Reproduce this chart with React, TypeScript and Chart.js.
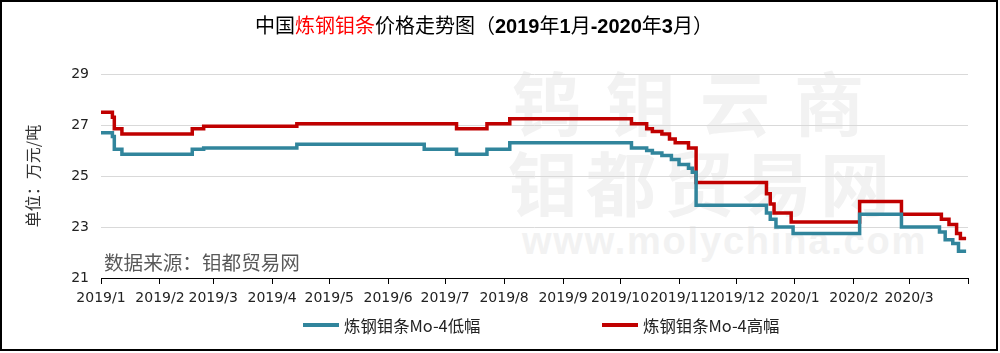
import React, { useEffect, useRef } from 'react';
import { Chart, registerables } from 'chart.js';

Chart.register(...registerables);

// ---------- data ----------
const monthTickDates = [
  '2019-01-01', '2019-02-01', '2019-03-01', '2019-04-01', '2019-05-01', '2019-06-01',
  '2019-07-01', '2019-08-01', '2019-09-01', '2019-10-01', '2019-11-01', '2019-12-01',
  '2020-01-01', '2020-02-01', '2020-03-01', '2020-04-01',
];
const monthTickLabels = [
  '2019/1', '2019/2', '2019/3', '2019/4', '2019/5', '2019/6', '2019/7', '2019/8',
  '2019/9', '2019/10', '2019/11', '2019/12', '2020/1', '2020/2', '2020/3', '',
];

const lowDates = [
  '2019-01-01', '2019-01-07', '2019-01-08', '2019-01-12', '2019-02-18', '2019-02-24',
  '2019-04-14', '2019-06-20', '2019-07-07', '2019-07-23', '2019-08-04', '2019-10-07',
  '2019-10-15', '2019-10-18', '2019-10-23', '2019-10-28', '2019-11-01', '2019-11-06',
  '2019-11-08', '2019-11-10', '2019-12-17', '2019-12-19', '2019-12-22', '2019-12-31',
  '2020-02-04', '2020-02-26', '2020-03-17', '2020-03-20', '2020-03-24', '2020-03-27',
  '2020-03-31',
];
const lowValues = [
  26.7, 26.55, 26.05, 25.85, 26.05, 26.1,
  26.25, 26.05, 25.85, 26.05, 26.3, 26.1,
  26.0, 25.9, 25.8, 25.65, 25.45, 25.3,
  25.15, 23.85, 23.55, 23.3, 23.0, 22.75,
  23.5, 23.0, 22.8, 22.5, 22.35, 22.05,
  22.05,
];

const highDates = [
  '2019-01-01', '2019-01-07', '2019-01-08', '2019-01-12', '2019-02-18', '2019-02-24',
  '2019-04-14', '2019-07-07', '2019-07-23', '2019-08-04', '2019-10-07', '2019-10-15',
  '2019-10-18', '2019-10-23', '2019-10-27', '2019-10-30', '2019-11-06', '2019-11-10',
  '2019-12-17', '2019-12-19', '2019-12-21', '2019-12-30', '2020-02-04', '2020-02-26',
  '2020-03-18', '2020-03-22', '2020-03-26', '2020-03-28', '2020-03-31',
];
const highValues = [
  27.5, 27.3, 26.85, 26.65, 26.85, 26.95,
  27.05, 26.85, 27.05, 27.25, 27.05, 26.85,
  26.75, 26.65, 26.45, 26.3, 26.1, 24.75,
  24.3, 23.9, 23.55, 23.2, 24.0, 23.5,
  23.3, 23.1, 22.75, 22.55, 22.55,
];

const seriesNames = ['炼钢钼条Mo-4低幅', '炼钢钼条Mo-4高幅'];
const seriesColors = ['#31859C', '#C00000'];

const yMin = 21;
const yMax = 29;
const yStep = 2;

// ---------- helpers ----------
const START = Date.UTC(2019, 0, 1);
function dayIndex(s: string): number {
  const [y, m, d] = s.split('-').map(Number);
  return (Date.UTC(y, m - 1, d) - START) / 86400000;
}
const tickValues = monthTickDates.map(dayIndex);

const CJK = '"Noto Sans CJK SC", "Noto Sans", sans-serif';
const BOLDNUM = '"Liberation Sans", Arial, ' + CJK;

export default function App() {
  const canvasRef = useRef<HTMLCanvasElement | null>(null);

  useEffect(() => {
    const canvas = canvasRef.current;
    if (!canvas) return;
    const chart = new Chart(canvas, {
      type: 'line',
      data: {
        datasets: [
          {
            label: seriesNames[0],
            data: lowDates.map((d, i) => ({ x: dayIndex(d), y: lowValues[i] })),
            borderColor: seriesColors[0],
            backgroundColor: seriesColors[0],
            borderWidth: 3.5,
            pointRadius: 0,
            stepped: true,
            fill: false,
          },
          {
            label: seriesNames[1],
            data: highDates.map((d, i) => ({ x: dayIndex(d), y: highValues[i] })),
            borderColor: seriesColors[1],
            backgroundColor: seriesColors[1],
            borderWidth: 3.5,
            pointRadius: 0,
            stepped: true,
            fill: false,
          },
        ],
      },
      options: {
        responsive: false,
        animation: false,
        devicePixelRatio: 1,
        layout: { padding: { left: 0, right: 32, top: 74, bottom: 35 } },
        plugins: {
          legend: { display: false },
          title: { display: false },
          tooltip: { enabled: false },
        },
        scales: {
          x: {
            type: 'linear',
            min: tickValues[0],
            max: tickValues[tickValues.length - 1],
            afterBuildTicks: (s: any) => {
              s.ticks = tickValues.map((v) => ({ value: v }));
            },
            afterFit: (s: any) => {
              s.height = 40;
            },
            grid: {
              display: true,
              drawOnChartArea: false,
              drawTicks: true,
              tickLength: 6,
              tickColor: '#000',
              color: '#000',
            },
            border: { display: true, color: '#000', width: 1 },
            ticks: {
              autoSkip: false,
              maxRotation: 0,
              minRotation: 0,
              padding: 6,
              color: '#222',
              font: { family: '"DejaVu Sans", sans-serif', size: 14 },
              callback: (_v: any, i: number) => monthTickLabels[i],
            },
          },
          y: {
            min: yMin,
            max: yMax,
            afterFit: (s: any) => {
              s.width = 101;
            },
            grid: { color: '#d9d9d9', drawTicks: false, lineWidth: 1 },
            border: { display: false },
            ticks: {
              stepSize: yStep,
              padding: 12,
              color: '#222',
              font: { family: '"DejaVu Sans", sans-serif', size: 14 },
            },
            title: {
              display: true,
              text: '单位：万元/吨',
              color: '#333',
              font: { family: CJK, size: 16 },
              padding: { top: 23, bottom: 0 },
            },
          },
        },
      },
    });
    return () => chart.destroy();
  }, []);

  const wm: React.CSSProperties = {
    position: 'absolute',
    color: '#f2f2f2',
    fontWeight: 'bold',
    lineHeight: 1,
    whiteSpace: 'nowrap',
  };

  return (
    <div
      style={{
        position: 'absolute',
        left: 0,
        top: 0,
        width: 1000,
        height: 353,
        background: '#fff',
        overflow: 'hidden',
      }}
    >
      {/* watermark */}
      <div style={{ ...wm, left: 512, top: 66, fontSize: 70, letterSpacing: 24, fontFamily: CJK }}>钨钼云商</div>
      <div style={{ ...wm, left: 508, top: 146, fontSize: 70, letterSpacing: 8, fontFamily: CJK }}>钼都贸易网</div>
      <div style={{ ...wm, left: 522, top: 222, fontSize: 38, letterSpacing: 1.8, fontFamily: '"Liberation Sans", Arial, sans-serif' }}>
        www.molychina.com
      </div>

      <canvas
        ref={canvasRef}
        width={1000}
        height={353}
        style={{ position: 'absolute', left: 0, top: 0, width: 1000, height: 353 }}
      />

      {/* title */}
      <div
        style={{
          position: 'absolute',
          left: 255,
          top: 15,
          fontSize: 20,
          lineHeight: 1,
          fontFamily: CJK,
          color: '#000',
          whiteSpace: 'nowrap',
        }}
      >
        中国<span style={{ color: '#FF0000' }}>炼钢钼条</span>价格走势图（
        <span style={{ fontWeight: 'bold', fontFamily: BOLDNUM }}>2019</span>年
        <span style={{ fontWeight: 'bold', fontFamily: BOLDNUM }}>1</span>月
        <span style={{ fontWeight: 'bold', fontFamily: BOLDNUM }}>-2020</span>年
        <span style={{ fontWeight: 'bold', fontFamily: BOLDNUM }}>3</span>月）
      </div>

      {/* source note */}
      <div
        style={{
          position: 'absolute',
          left: 104,
          top: 252,
          fontSize: 19.6,
          lineHeight: 1,
          fontFamily: CJK,
          color: '#595959',
          whiteSpace: 'nowrap',
        }}
      >
        数据来源：钼都贸易网
      </div>

      {/* legend */}
      {[0, 1].map((i) => (
        <div
          key={i}
          style={{
            position: 'absolute',
            left: i === 0 ? 303 : 602,
            top: 316,
            height: 18,
            display: 'flex',
            alignItems: 'center',
            whiteSpace: 'nowrap',
          }}
        >
          <div style={{ width: 36, height: 4, background: seriesColors[i], marginRight: 5 }} />
          <span style={{ fontSize: 16.4, lineHeight: 1, fontFamily: CJK, color: '#222' }}>{seriesNames[i]}</span>
        </div>
      ))}

      {/* outer frame */}
      <div
        style={{
          position: 'absolute',
          left: 0,
          top: 0,
          width: 998,
          height: 351,
          border: '2px solid #000',
          boxSizing: 'border-box',
          pointerEvents: 'none',
        }}
      />
    </div>
  );
}
